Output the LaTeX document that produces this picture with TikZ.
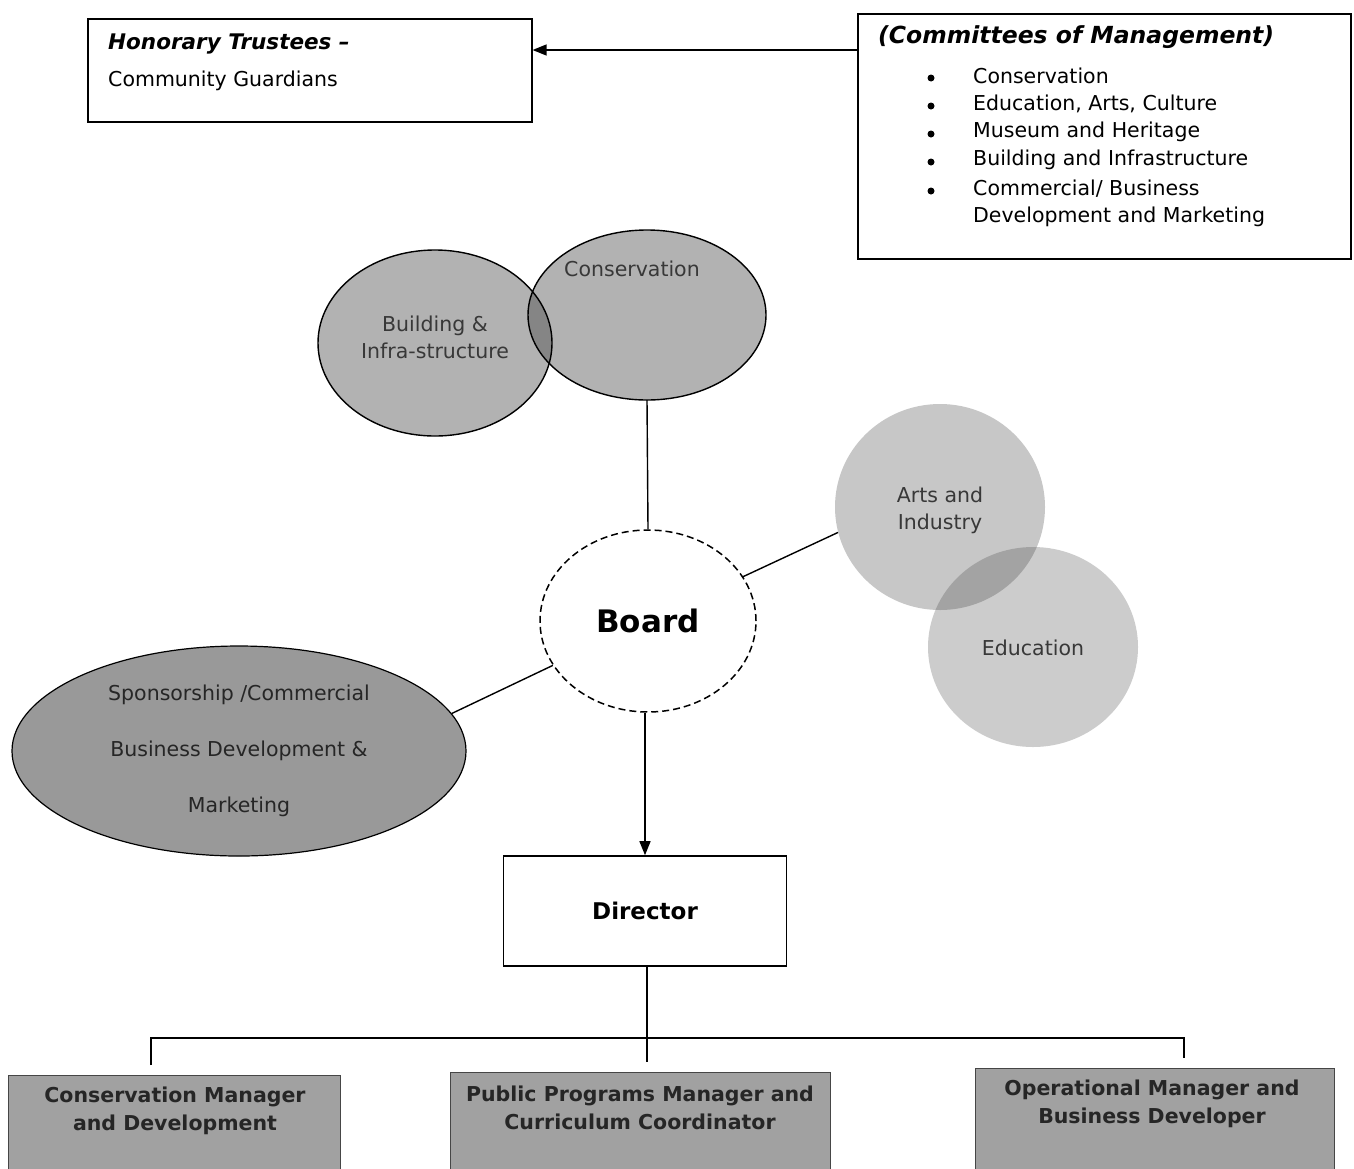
\documentclass[tikz,border=0pt]{standalone}
\usepackage{fontspec}
\setmainfont{DejaVu Sans}
\usetikzlibrary{shapes.geometric,arrows.meta}
\definecolor{shadeA}{gray}{0.70}
\definecolor{shadeB}{gray}{0.52}
\definecolor{shadeC}{gray}{0.78}
\definecolor{shadeD}{gray}{0.80}
\definecolor{shadeE}{gray}{0.64}
\definecolor{shadeF}{gray}{0.60}
\definecolor{shadeG}{gray}{0.63}
\definecolor{txtgray}{gray}{0.22}
\begin{document}
\begin{tikzpicture}[x=1pt,y=-1pt,
  box/.style={draw, line width=1.6pt, inner sep=0pt, fill=white},
  plain/.style={anchor=west, inner sep=0pt, font=\fontsize{20.5pt}{24pt}\selectfont},
  titletext/.style={anchor=west, inner sep=0pt, font=\bfseries\itshape\fontsize{21.5pt}{25pt}\selectfont},
  bullet/.style={circle, fill=black, inner sep=0pt, minimum size=7pt},
  blob/.style={ellipse, inner sep=0pt},
  ctext/.style={inner sep=0pt, align=center, text=txtgray, font=\fontsize{20.5pt}{28pt}\selectfont},
  mgr/.style={draw=gray!55!black, line width=0.8pt, fill=shadeG, inner sep=0pt, anchor=north west},
  mgrtext/.style={inner sep=0pt, align=center, text=black!85, font=\bfseries\fontsize{20.5pt}{28pt}\selectfont},
  conn/.style={line width=1.4pt},
  arr/.style={line width=1.4pt, -{Triangle[length=14pt,width=11pt]}}
]
\useasboundingbox (0,0) rectangle (1354,1168);
\fill[white] (0,0) rectangle (1354,1168);

% --- top boxes
\node[box, minimum width=444pt, minimum height=103pt, anchor=north west] (hon) at (87,18) {};
\node[titletext] (hont) at (108,44) {Honorary Trustees –};
\node[plain] (hons) at (108,81) {Community Guardians};

\node[box, minimum width=493pt, minimum height=245pt, anchor=north west] (comm) at (857,13) {};
\node[titletext, font=\bfseries\itshape\fontsize{23.5pt}{27pt}\selectfont] (commt) at (878,37) {(Committees of Management)};
\node[bullet] (b1) at (931,78) {};
\node[bullet] (b2) at (931,106) {};
\node[bullet] (b3) at (931,134) {};
\node[bullet] (b4) at (931,162) {};
\node[bullet] (b5) at (931,191) {};
\node[plain] (c1) at (973,76) {Conservation};
\node[plain] (c2) at (973,104) {Education, Arts, Culture};
\node[plain] (c3) at (973,132) {Museum and Heritage};
\node[plain] (c4) at (973,160) {Building and Infrastructure};
\node[plain] (c5) at (973,189) {Commercial/ Business};
\node[plain] (c6) at (973,217) {Development and Marketing};

\coordinate (a1) at (857,50);
\draw[arr] (a1) -- (a1 -| hon.east);

% --- building & conservation
\node[blob, fill=shadeA, minimum width=234pt, minimum height=186pt] (build) at (435,343) {};
\node[blob, fill=shadeA, minimum width=238pt, minimum height=170pt] (cons) at (647,315) {};
\begin{scope}
  \clip (build.center) ellipse [x radius=117pt, y radius=93pt];
  \fill[shadeB] (cons.center) ellipse [x radius=119pt, y radius=85pt];
\end{scope}
\draw[line width=1.4pt] (build.center) ellipse [x radius=117pt, y radius=93pt];
\draw[line width=1.4pt] (cons.center) ellipse [x radius=119pt, y radius=85pt];
\node[ctext] (buildt) at (435,337) {Building \&\\[-1pt]Infra-structure};
\node[ctext] (const) at (632,269) {Conservation};

% --- arts & education
\node[blob, fill=shadeC, minimum width=210pt, minimum height=206pt] (arts) at (940,507) {};
\node[blob, fill=shadeD, minimum width=210pt, minimum height=200pt] (edu) at (1033,647) {};
\begin{scope}
  \clip (arts.center) ellipse [x radius=105pt, y radius=103pt];
  \fill[shadeE] (edu.center) ellipse [x radius=105pt, y radius=100pt];
\end{scope}
\node[ctext] (artst) at (940,510) {Arts and\\[-1pt]Industry};
\node[ctext] (edut) at (1033,648) {Education};

% --- board
\node[blob, draw, dashed, dash pattern=on 7pt off 4pt, line width=1.5pt, fill=white,
      minimum width=216pt, minimum height=182pt,
      font=\bfseries\fontsize{31pt}{36pt}\selectfont] (board) at (648,621) {Board};

% --- sponsorship
\node[blob, draw, line width=1.2pt, fill=shadeF, minimum width=454pt, minimum height=210pt,
      align=center, text=black!85, font=\fontsize{20.5pt}{56pt}\selectfont] (spons) at (239,751)
      {Sponsorship /Commercial\\Business Development \&\\Marketing};

% --- director
\node[box, minimum width=283pt, minimum height=110pt,
      font=\bfseries\fontsize{23pt}{27pt}\selectfont] (dir) at (645,911) {Director};

% --- managers
\node[mgr, minimum width=332pt, minimum height=110pt] (m1) at (8,1075) {};
\node[mgr, minimum width=380pt, minimum height=110pt] (m2) at (450,1072) {};
\node[mgr, minimum width=359pt, minimum height=110pt] (m3) at (975,1068) {};
\node[mgrtext] (m1t) at (175,1111) {Conservation Manager\\and Development};
\node[mgrtext] (m2t) at (640,1108) {Public Programs Manager and\\Curriculum Coordinator};
\node[mgrtext] (m3t) at (1152,1104) {Operational Manager and\\Business Developer};

% --- connectors
\draw[conn] (cons.south) -- (board.north);
\draw[conn] (board.25) -- (arts.194);
\draw[conn] (board.205) -- (spons.10);
\draw[arr] (board.south -| dir.north) -- (dir.north);

\coordinate (jl) at (151,1038);
\coordinate (jr) at (1184,1038);
\coordinate (el) at (151,1065);
\coordinate (er) at (1184,1058);
\coordinate (ec) at (647,1062);
\draw[conn] (dir.south -| ec) -- (ec);
\draw[conn] (el) -- (jl) -- (jr) -- (er);
\end{tikzpicture}
\end{document}
